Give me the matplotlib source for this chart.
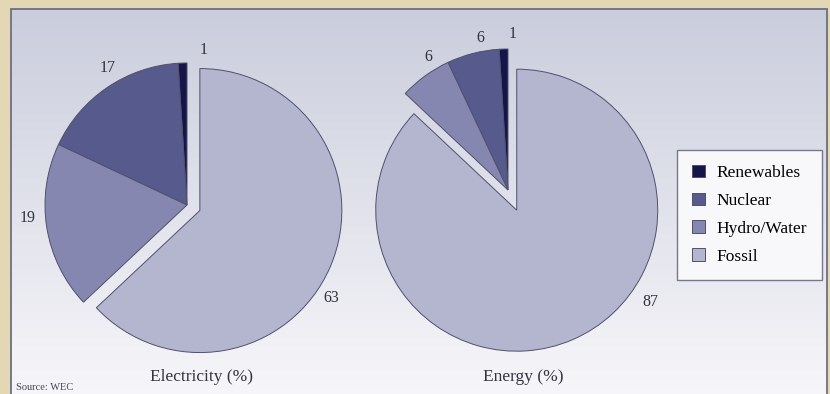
import numpy as np
import matplotlib.pyplot as plt
from matplotlib.patches import Rectangle

# shares in percent
sources = ['Renewables', 'Nuclear', 'Hydro/Water', 'Fossil']
electricity = [1, 17, 19, 63]
energy = [1, 6, 6, 87]
colors = ['#15154a', '#575a8d', '#8587b1', '#b4b6cf']

W, H = 830, 394
fig = plt.figure(figsize=(W / 100, H / 100), dpi=100)
fig.patch.set_facecolor('#e4d7b4')

# work in pixel units, y pointing up
ax = fig.add_axes([0, 0, 1, 1])

# panel with a soft grey-blue to white gradient
px0, px1, py0, py1 = 11, 827, -5, H - 9
g = np.linspace(0, 1, 200)[:, None] * np.ones((1, 50))
top = np.array([202, 205, 220]) / 255
bot = np.array([247, 247, 250]) / 255
grad = top[None, None, :] * (1 - g[..., None]) + bot[None, None, :] * g[..., None]
ax.imshow(grad, extent=[px0, px1, py0, py1], origin='upper', aspect='auto', zorder=0)
ax.add_patch(Rectangle((px0, py0), px1 - px0, py1 - py0, fill=False,
                       edgecolor='#6e6e80', linewidth=1.3, zorder=1))

wp = dict(edgecolor='#50506a', linewidth=0.7)

# electricity pie, fossil pulled out (explode is in pixels here)
w1, _ = ax.pie(electricity, colors=colors, startangle=90, counterclock=True,
               center=(187, H - 205), radius=142, explode=[0, 0, 0, 14],
               wedgeprops=wp, frame=True)
# energy pie
w2, _ = ax.pie(energy, colors=colors, startangle=90, counterclock=True,
               center=(508, H - 190), radius=141, explode=[0, 0, 0, 22],
               wedgeprops=wp, frame=True)
for w in w1 + w2:
    w.set_zorder(2)

ax.set_xlim(0, W)
ax.set_ylim(0, H)
ax.set_xticks([])
ax.set_yticks([])
ax.set_frame_on(False)

tf = dict(family='Liberation Serif', color='#333340', fontsize=11.5, ha='center', va='center', zorder=3)
# value labels
for val, (x, y) in zip(electricity, [(204, 50), (108, 68), (28, 218), (331, 298)]):
    ax.text(x, H - y, str(val), **tf)
for val, (x, y) in zip(energy, [(513, 34), (480, 38), (428, 57), (650, 302)]):
    ax.text(x, H - y, str(val), **tf)

ax.text(201, H - 377, 'Electricity (%)', family='Liberation Serif', color='#333340',
        fontsize=12.5, ha='center', va='center', zorder=3)
ax.text(523, H - 377, 'Energy (%)', family='Liberation Serif', color='#333340',
        fontsize=12.5, ha='center', va='center', zorder=3)
ax.text(16, H - 388, 'Source: WEC', family='Liberation Serif', color='#444455',
        fontsize=7.5, ha='left', va='center', zorder=3)

leg = ax.legend(w1, sources, loc='upper left', bbox_to_anchor=(677 / W, 1 - 150 / H),
                bbox_transform=fig.transFigure,
                frameon=True, fancybox=False, edgecolor='#77778a', facecolor='#f8f8fb',
                framealpha=1, prop=dict(family='Liberation Serif', size=12.5),
                handlelength=0.75, handleheight=0.75, labelspacing=0.66,
                borderpad=0.85, handletextpad=0.7, borderaxespad=0)
leg.get_frame().set_linewidth(1.0)
leg.set_zorder(4)

fig.savefig('out.png', dpi=100, facecolor=fig.get_facecolor())
